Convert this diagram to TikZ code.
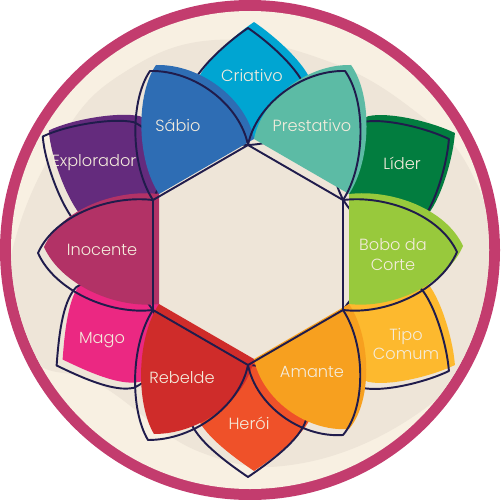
\documentclass[tikz,border=0pt]{standalone}
\usepackage{fontspec}
\setmainfont{Poppins}[UprightFont=* Light]
\definecolor{ring}{HTML}{C33C6E}
\definecolor{cream}{HTML}{F8F0E2}
\definecolor{sand}{HTML}{EEE5D8}
\definecolor{ink}{HTML}{201C4C}
\definecolor{label}{HTML}{F4ECDC}
\definecolor{criativo}{HTML}{00A5D2}
\definecolor{sabio}{HTML}{2E6DB4}
\definecolor{prestativo}{HTML}{5CBBA5}
\definecolor{lider}{HTML}{027D3F}
\definecolor{bobo}{HTML}{98C93C}
\definecolor{tipo}{HTML}{FDB92E}
\definecolor{amante}{HTML}{F7A01F}
\definecolor{heroi}{HTML}{EF5129}
\definecolor{rebelde}{HTML}{CF2C2A}
\definecolor{mago}{HTML}{EB2882}
\definecolor{inocente}{HTML}{B23266}
\definecolor{explorador}{HTML}{642B7D}
\usetikzlibrary{positioning}
\newcommand{\outerpath}[1]{(110,0) .. controls (112,45) and (138,60) .. (165,58) .. controls (185,52) and ({#1-15},22) .. (#1,0) .. controls ({#1-15},-22) and (185,-52) .. (165,-58) .. controls (138,-60) and (112,-45) .. (110,0) -- cycle}
\newcommand{\sabiopath}{(153,200) .. controls (130,165) and (130,100) .. (150,71) .. controls (195,70) and (240,105) .. (248,145) -- cycle}
\newcommand{\prestativopath}{(343,200) .. controls (366,165) and (366,100) .. (345,71) .. controls (301,70) and (256,105) .. (248,145) -- cycle}
\newcommand{\bobopath}{(343,200) .. controls (386,195) and (440,215) .. (457,252) .. controls (440,291) and (386,315) .. (343,310) -- cycle}
\newcommand{\amantepath}{(343,310) .. controls (366,345) and (366,408) .. (343,435) .. controls (300,438) and (256,405) .. (248,365) -- cycle}
\newcommand{\rebeldepath}{(153,310) .. controls (130,345) and (130,410) .. (148,440) .. controls (195,440) and (240,405) .. (248,365) -- cycle}
\newcommand{\inocentepath}{(153,200) .. controls (110,195) and (55,215) .. (38,253) .. controls (55,291) and (110,315) .. (153,310) -- cycle}

\begin{document}
\begin{tikzpicture}[x=0.02cm,y=-0.02cm,
  every node/.style={font=\fontsize{9.2}{11.3}\selectfont,text=label,align=center},
  petal line/.style={draw=ink,line width=1.1pt,line join=round}]
  \useasboundingbox (0,0) rectangle (500,500);
  \fill[ring] (250,250) circle (250);
  \fill[cream] (250,250) circle (239);
  \begin{scope}
    \clip (250,250) circle (239);
    \fill[sand] plot[smooth cycle,tension=0.7] coordinates {(215,40) (330,62) (420,115) (470,170) (492,250) (478,340) (420,412) (303,463) (200,452) (100,385) (40,366) (8,330) (15,240) (60,140) (120,75)};
  \end{scope}
  \fill[criativo,shift={(254,249)},rotate=90] \outerpath{227};
  \draw[petal line,shift={(248,255)},rotate=90] \outerpath{227};
  \fill[lider,shift={(254,249)},rotate=30] \outerpath{232};
  \draw[petal line,shift={(248,255)},rotate=30] \outerpath{232};
  \fill[tipo,shift={(254,249)},rotate=-30] \outerpath{232};
  \draw[petal line,shift={(248,255)},rotate=-30] \outerpath{232};
  \fill[heroi,shift={(254,249)},rotate=-90] \outerpath{222};
  \draw[petal line,shift={(248,255)},rotate=-90] \outerpath{222};
  \fill[mago,shift={(254,249)},rotate=-150] \outerpath{221};
  \draw[petal line,shift={(248,255)},rotate=-150] \outerpath{221};
  \fill[explorador,shift={(254,249)},rotate=150] \outerpath{237};
  \draw[petal line,shift={(248,255)},rotate=150] \outerpath{237};
  \fill[sabio,shift={(6,-6)}] \sabiopath;
  \fill[prestativo,shift={(6,-6)}] \prestativopath;
  \fill[bobo,shift={(6,-6)}] \bobopath;
  \fill[amante,shift={(6,-6)}] \amantepath;
  \fill[rebelde,shift={(6,-6)}] \rebeldepath;
  \fill[inocente,shift={(6,-6)}] \inocentepath;
  \draw[petal line] \sabiopath;
  \draw[petal line] \prestativopath;
  \draw[petal line] \bobopath;
  \draw[petal line] \amantepath;
  \draw[petal line] \rebeldepath;
  \draw[petal line] \inocentepath;
  \node (criativo) at (252,75) {Criativo};
  \node (sabio) at (178,125) {Sábio};
  \node (prestativo) at (312,125) {Prestativo};
  \node (explorador) at (94,163) {Explorador};
  \node (lider) at (402,163) {Líder};
  \node (inocente) at (102,250) {Inocente};
  \node (bobo) at (393,255) {Bobo da\\Corte};
  \node (mago) at (102,340) {Mago};
  \node (tipo) at (406,344) {Tipo\\Comum};
  \node (rebelde) at (182,378) {Rebelde};
  \node (amante) at (312,372) {Amante};
  \node (heroi) at (249,423) {Herói};
\end{tikzpicture}
\end{document}
